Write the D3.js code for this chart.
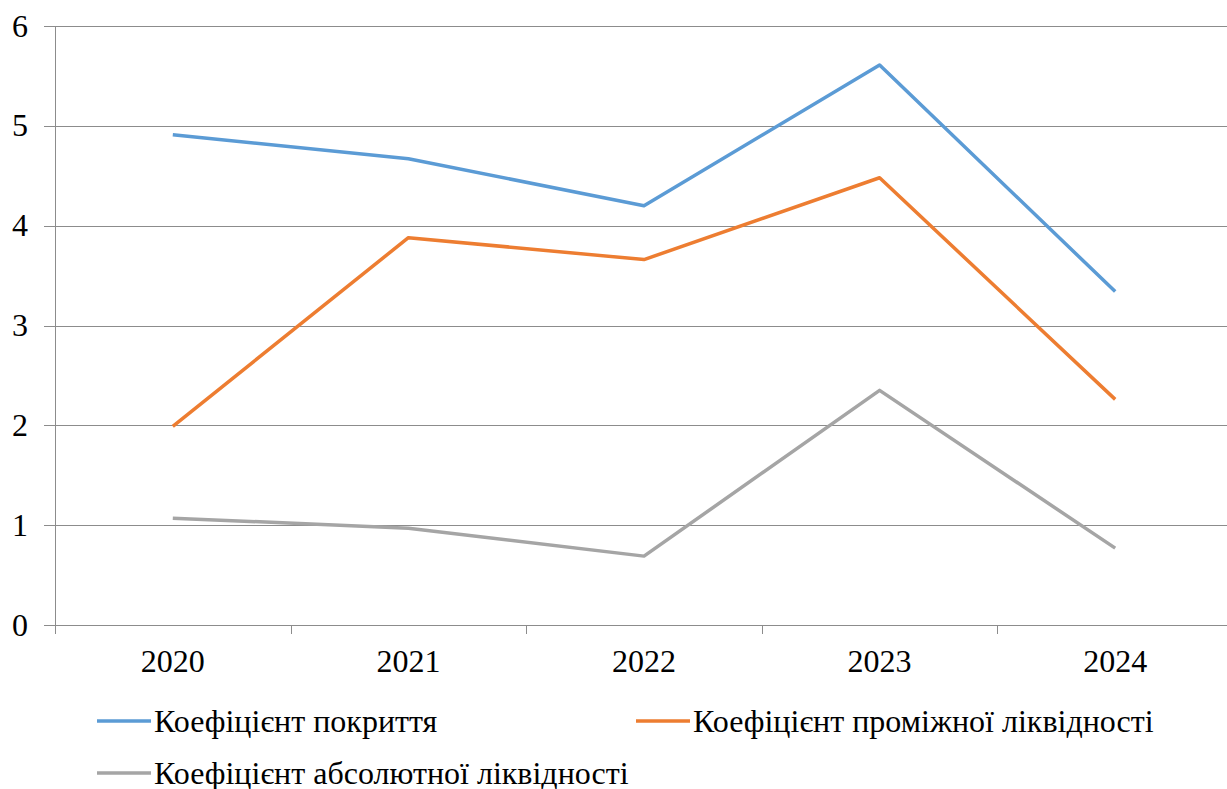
<!DOCTYPE html>
<html>
<head>
<meta charset="utf-8">
<script src="https://cdn.jsdelivr.net/npm/d3@7"></script>
<style>
  body { margin: 0; background: #fff; }
  svg { display: block; }
  text { font-family: "Liberation Serif", Tinos, "Times New Roman", "DejaVu Serif", serif; }
</style>
</head>
<body>
<svg id="chart" width="1227" height="789"></svg>
<script>
// дані
const years = ["2020", "2021", "2022", "2023", "2024"];
const seriesNames = [
  "Коефіцієнт покриття",
  "Коефіцієнт проміжної ліквідності",
  "Коефіцієнт абсолютної ліквідності"
];
const coverage = [4.91, 4.67, 4.20, 5.61, 3.34];
const quick = [1.99, 3.88, 3.66, 4.48, 2.26];
const absolute = [1.07, 0.97, 0.69, 2.35, 0.77];
const yTicks = [0, 1, 2, 3, 4, 5, 6];

const colors = ["#5B9BD5", "#ED7D31", "#A5A5A5"];
const allSeries = [coverage, quick, absolute];

const svg = d3.select("#chart");
const plotLeft = 55, plotTop = 26, plotBottom = 625;
const band = 235.6;
const fontSize = 32;

const x = d3.scaleBand()
  .domain(years)
  .range([plotLeft, plotLeft + band * years.length])
  .paddingInner(0)
  .paddingOuter(0);

const y = d3.scaleLinear().domain([0, 6]).range([plotBottom, plotTop]);

// сітка
svg.append("g")
  .selectAll("line")
  .data(yTicks)
  .enter()
  .append("line")
  .attr("x1", plotLeft - 11)
  .attr("x2", 1227)
  .attr("y1", (d) => Math.round(y(d)) + 0.5)
  .attr("y2", (d) => Math.round(y(d)) + 0.5)
  .attr("stroke", "#8c8c8c")
  .attr("stroke-width", 1);

// вісь Y
svg.append("line")
  .attr("x1", plotLeft + 0.5).attr("x2", plotLeft + 0.5)
  .attr("y1", plotTop).attr("y2", plotBottom + 9)
  .attr("stroke", "#8c8c8c");

svg.append("g")
  .selectAll("text")
  .data(yTicks)
  .enter()
  .append("text")
  .attr("x", 28)
  .attr("y", (d) => y(d))
  .attr("dy", "0.33em")
  .attr("text-anchor", "end")
  .attr("font-size", fontSize)
  .attr("fill", "#000")
  .text((d) => d);

// вісь X - поділки
svg.append("g")
  .selectAll("line")
  .data(years)
  .enter()
  .append("line")
  .attr("x1", (d) => Math.round(x(d) + x.bandwidth()) + 0.5)
  .attr("x2", (d) => Math.round(x(d) + x.bandwidth()) + 0.5)
  .attr("y1", plotBottom)
  .attr("y2", plotBottom + 9)
  .attr("stroke", "#8c8c8c");

svg.append("g")
  .selectAll("text")
  .data(years)
  .enter()
  .append("text")
  .attr("x", (d) => x(d) + x.bandwidth() / 2)
  .attr("y", 672)
  .attr("text-anchor", "middle")
  .attr("font-size", fontSize)
  .attr("fill", "#000")
  .text((d) => d);

// лінії
const line = d3.line()
  .x((d, i) => x(years[i]) + x.bandwidth() / 2)
  .y((d) => y(d));

svg.append("g")
  .selectAll("path")
  .data(allSeries)
  .enter()
  .append("path")
  .attr("d", line)
  .attr("fill", "none")
  .attr("stroke", (d, i) => colors[i])
  .attr("stroke-width", 3.5)
  .attr("stroke-linejoin", "round");

// легенда
const legendPos = [
  { x: 97, y: 721 },
  { x: 636, y: 721 },
  { x: 97, y: 773 }
];

const legend = svg.append("g")
  .selectAll("g")
  .data(seriesNames)
  .enter()
  .append("g")
  .attr("transform", (d, i) => `translate(${legendPos[i].x},${legendPos[i].y})`);

legend.append("line")
  .attr("x1", 0).attr("x2", 54)
  .attr("y1", 0).attr("y2", 0)
  .attr("stroke", (d, i) => colors[i])
  .attr("stroke-width", 3.5);

legend.append("text")
  .attr("x", 57)
  .attr("y", 0)
  .attr("dy", "0.35em")
  .attr("font-size", fontSize)
  .attr("fill", "#000")
  .text((d) => d);
</script>
</body>
</html>
